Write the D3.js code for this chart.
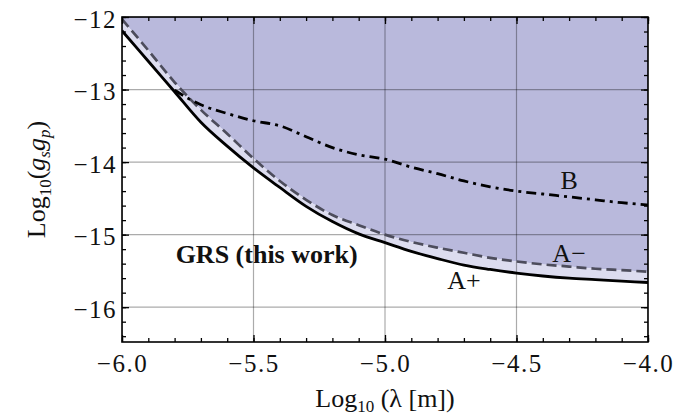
<!DOCTYPE html>
<html>
<head>
<meta charset="utf-8">
<script src="https://cdn.jsdelivr.net/npm/d3@7"></script>
<style>
  body { margin: 0; background: #fff; }
  text { font-family: "Liberation Serif", "DejaVu Serif", serif; fill: #111; }
</style>
</head>
<body>
<div class="canvas"></div>
<script>
const dims = { width: 697, height: 419 };
const margin = { top: 17, right: 49, bottom: 77, left: 122 };

// log10(lambda) grid shared by A+ and A-
const lambdaGrid = [-6.0, -5.9, -5.8, -5.7, -5.6, -5.5, -5.4, -5.3, -5.2, -5.1, -5.0,
  -4.9, -4.8, -4.7, -4.6, -4.5, -4.4, -4.3, -4.2, -4.1, -4.0];
const aPlus = [-12.19, -12.61, -13.03, -13.45, -13.78, -14.08, -14.35, -14.61, -14.82, -14.99, -15.11,
  -15.23, -15.33, -15.42, -15.48, -15.53, -15.57, -15.60, -15.62, -15.64, -15.66];
const aMinus = [-12.03, -12.46, -12.90, -13.28, -13.61, -13.95, -14.26, -14.52, -14.73, -14.87, -15.00,
  -15.10, -15.18, -15.25, -15.32, -15.37, -15.41, -15.44, -15.47, -15.49, -15.51];

// curve B starts where it meets A+
const bLambda = [-5.8, -5.7, -5.6, -5.5, -5.4, -5.3, -5.2, -5.1, -5.0,
  -4.9, -4.8, -4.7, -4.6, -4.5, -4.4, -4.3, -4.2, -4.1, -4.0];
const bValues = [-13.01, -13.21, -13.33, -13.43, -13.50, -13.65, -13.80, -13.90, -13.96,
  -14.07, -14.16, -14.26, -14.34, -14.40, -14.44, -14.48, -14.52, -14.56, -14.59];

const xTicks = [-6.0, -5.5, -5.0, -4.5, -4.0];
const yTicks = [-12, -13, -14, -15, -16];

const w = dims.width - margin.left - margin.right;
const h = dims.height - margin.top - margin.bottom;

const svg = d3
  .select(".canvas")
  .append("svg")
  .attr("width", dims.width)
  .attr("height", dims.height);

const x = d3.scaleLinear().domain([-6, -4]).range([0, w]);
const y = d3.scaleLinear().domain([-16.48, -12]).range([h, 0]);

const g = svg.append("g").attr("transform", `translate(${margin.left},${margin.top})`);

g.append("clipPath").attr("id", "clip")
  .append("rect").attr("width", w).attr("height", h);

const plot = g.append("g").attr("clip-path", "url(#clip)");

const aPts = lambdaGrid.map((l, i) => ({ l, plus: aPlus[i], minus: aMinus[i] }));
const bPts = bLambda.map((l, i) => ({ l, v: bValues[i] }));

// excluded region above A-
plot.append("path")
  .datum(aPts)
  .attr("fill", "#b9b9dc")
  .attr("d", d3.area().x(d => x(d.l)).y0(d => y(d.minus)).y1(() => y(-11.5)));

// band between A+ and A-
plot.append("path")
  .datum(aPts)
  .attr("fill", "#dcdcef")
  .attr("d", d3.area().x(d => x(d.l)).y0(d => y(d.plus)).y1(d => y(d.minus)));

// grid
plot.append("g").selectAll("line").data(xTicks).join("line")
  .attr("x1", d => x(d)).attr("x2", d => x(d))
  .attr("y1", 0).attr("y2", h)
  .attr("stroke", "#000").attr("stroke-opacity", 0.33).attr("stroke-width", 1.2);
plot.append("g").selectAll("line").data(yTicks).join("line")
  .attr("y1", d => y(d)).attr("y2", d => y(d))
  .attr("x1", 0).attr("x2", w)
  .attr("stroke", "#000").attr("stroke-opacity", 0.33).attr("stroke-width", 1.2);

const line = d3.line().curve(d3.curveMonotoneX);

plot.append("path")
  .attr("d", line.x(d => x(d.l)).y(d => y(d.minus))(aPts))
  .attr("fill", "none").attr("stroke", "#4d4d5c").attr("stroke-width", 2.7)
  .attr("stroke-dasharray", "10,5");

plot.append("path")
  .attr("d", line.x(d => x(d.l)).y(d => y(d.plus))(aPts))
  .attr("fill", "none").attr("stroke", "#000").attr("stroke-width", 2.8);

plot.append("path")
  .attr("d", line.x(d => x(d.l)).y(d => y(d.v))(bPts))
  .attr("fill", "none").attr("stroke", "#000").attr("stroke-width", 2.8)
  .attr("stroke-dasharray", "10,5,3,5");

// axes with inward ticks on all four sides
const xMinor = d3.range(-6, -3.95, 0.1);
const yMinor = d3.range(-16.4, -11.95, 0.2);

g.append("g").attr("transform", `translate(0,${h})`)
  .call(d3.axisBottom(x).tickValues(xMinor).tickSize(-4).tickFormat(""));
g.append("g")
  .call(d3.axisTop(x).tickValues(xMinor).tickSize(-4).tickFormat(""));
g.append("g").attr("class", "xlab").attr("transform", `translate(0,${h})`)
  .call(d3.axisBottom(x).tickValues(xTicks).tickSize(-7).tickPadding(12)
    .tickFormat(d => d3.format(".1f")(d).replace("-", "\u2212")));
g.append("g")
  .call(d3.axisTop(x).tickValues(xTicks).tickSize(-7).tickFormat(""));

g.append("g")
  .call(d3.axisLeft(y).tickValues(yMinor).tickSize(-4).tickFormat(""));
g.append("g").attr("transform", `translate(${w},0)`)
  .call(d3.axisRight(y).tickValues(yMinor).tickSize(-4).tickFormat(""));
g.append("g").attr("class", "ylab")
  .call(d3.axisLeft(y).tickValues(yTicks).tickSize(-7).tickPadding(5)
    .tickFormat(d => String(d).replace("-", "\u2212")));
g.append("g").attr("transform", `translate(${w},0)`)
  .call(d3.axisRight(y).tickValues(yTicks).tickSize(-7).tickFormat(""));

g.selectAll(".domain").remove();
g.selectAll(".tick line").attr("stroke", "#000").attr("stroke-width", 1.3);
g.selectAll(".tick text")
  .style("font-size", "25px")
  .style("letter-spacing", "1.5px")
  .attr("fill", "#111");
g.selectAll(".ylab .tick text").attr("dy", "0.4em");

g.append("rect").attr("width", w).attr("height", h)
  .attr("fill", "none").attr("stroke", "#000").attr("stroke-width", 1.6);

// curve labels
const labels = [
  { t: "B", l: -4.3, v: -14.37 },
  { t: "A\u2212", l: -4.3, v: -15.38 },
  { t: "A+", l: -4.70, v: -15.75 }
];
g.selectAll(".lab").data(labels).join("text")
  .attr("class", "lab")
  .attr("x", d => x(d.l)).attr("y", d => y(d.v))
  .attr("text-anchor", "middle")
  .style("font-size", "26px")
  .text(d => d.t);

g.append("text")
  .attr("x", x(-5.45)).attr("y", y(-15.39))
  .attr("text-anchor", "middle")
  .style("font-size", "26px").style("font-weight", "bold")
  .text("GRS (this work)");

// axis titles
const xt = svg.append("text")
  .attr("x", margin.left + w / 2).attr("y", 407)
  .attr("text-anchor", "middle")
  .style("font-size", "26px");
xt.append("tspan").text("Log");
xt.append("tspan").attr("dy", 5).style("font-size", "17px").text("10");
xt.append("tspan").attr("dy", -5).text(" (\u03bb [m])");

const yt = svg.append("text")
  .attr("transform", `translate(45,${margin.top + h / 2}) rotate(-90)`)
  .attr("text-anchor", "middle")
  .style("font-size", "26px");
yt.append("tspan").text("Log");
yt.append("tspan").attr("dy", 6).style("font-size", "17px").text("10");
yt.append("tspan").attr("dy", -6).text("(");
yt.append("tspan").style("font-style", "italic").text("g");
yt.append("tspan").attr("dy", 5).style("font-size", "17px").style("font-style", "italic").text("s");
yt.append("tspan").attr("dy", -5).style("font-style", "italic").text("g");
yt.append("tspan").attr("dy", 5).style("font-size", "17px").style("font-style", "italic").text("p");
yt.append("tspan").attr("dy", -5).text(")");
</script>
</body>
</html>
